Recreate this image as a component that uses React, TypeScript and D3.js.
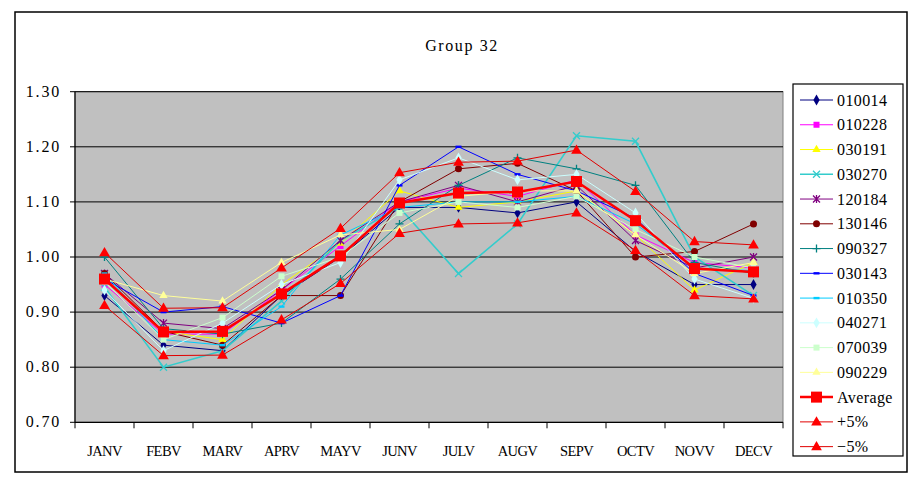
import React from "react";
import * as d3 from "d3";

const months = ["JANV","FEBV","MARV","APRV","MAYV","JUNV","JULV","AUGV","SEPV","OCTV","NOVV","DECV"];
const yTicks = [0.7, 0.8, 0.9, 1.0, 1.1, 1.2, 1.3];
const title = "Group 32";

const s010014 = [0.93,0.84,0.83,0.93,1.00,1.09,1.09,1.08,1.10,1.01,0.95,0.95];
const s010228 = [0.95,0.86,0.86,0.94,1.02,1.10,1.125,1.11,1.14,1.04,0.99,0.98];
const s030191 = [0.96,0.865,0.85,0.95,1.025,1.12,1.09,1.10,1.12,1.04,0.94,0.99];
const s030270 = [0.945,0.80,0.83,0.92,1.03,1.09,0.97,1.06,1.22,1.21,1.00,0.93];
const s120184 = [0.97,0.88,0.87,0.94,1.03,1.10,1.13,1.10,1.13,1.03,0.98,1.00];
const s130146 = [0.97,0.865,0.84,0.93,0.93,1.10,1.16,1.17,1.12,1.00,1.01,1.06];
const s090327 = [1.00,0.87,0.86,0.88,0.96,1.06,1.13,1.18,1.16,1.13,0.99,0.97];
const s030143 = [0.96,0.90,0.91,0.88,0.93,1.13,1.20,1.15,1.12,1.07,0.97,0.93];
const s010350 = [0.97,0.85,0.84,0.91,1.04,1.09,1.10,1.10,1.11,1.06,0.98,0.975];
const s040271 = [0.94,0.83,0.88,0.95,0.99,1.14,1.18,1.14,1.15,1.08,0.96,0.925];
const s070039 = [0.955,0.85,0.89,0.965,1.00,1.08,1.10,1.09,1.11,1.05,1.00,0.98];
const s090229 = [0.96,0.93,0.92,0.99,1.04,1.05,1.11,1.12,1.12,1.04,0.97,0.99];
const sAverage = [0.96,0.864,0.865,0.933,1.002,1.098,1.116,1.118,1.137,1.066,0.979,0.973];
const sPlus5 = [1.008,0.907,0.908,0.980,1.052,1.153,1.172,1.174,1.194,1.119,1.028,1.022];
const sMinus5 = [0.912,0.821,0.822,0.886,0.952,1.043,1.060,1.062,1.080,1.012,0.930,0.924];

type Marker = "diamond" | "square" | "triangle" | "x" | "star" | "circle" | "plus" | "dash" | "bigsquare" | "bigtriangle";
interface Series { name: string; values: number[]; color: string; marker: Marker; width: number; }

const series: Series[] = [
  { name: "010014", values: s010014, color: "#000080", marker: "diamond", width: 1 },
  { name: "010228", values: s010228, color: "#FF00FF", marker: "square", width: 1 },
  { name: "030191", values: s030191, color: "#FFFF00", marker: "triangle", width: 1 },
  { name: "030270", values: s030270, color: "#33CCCC", marker: "x", width: 1.6 },
  { name: "120184", values: s120184, color: "#800080", marker: "star", width: 1 },
  { name: "130146", values: s130146, color: "#800000", marker: "circle", width: 1 },
  { name: "090327", values: s090327, color: "#008080", marker: "plus", width: 1 },
  { name: "030143", values: s030143, color: "#0000FF", marker: "dash", width: 1 },
  { name: "010350", values: s010350, color: "#00CCFF", marker: "dash", width: 1 },
  { name: "040271", values: s040271, color: "#CCFFFF", marker: "diamond", width: 1 },
  { name: "070039", values: s070039, color: "#CCFFCC", marker: "square", width: 1 },
  { name: "090229", values: s090229, color: "#FFFF99", marker: "triangle", width: 1 },
  { name: "Average", values: sAverage, color: "#FF0000", marker: "bigsquare", width: 2.5 },
  { name: "+5%", values: sPlus5, color: "#E00000", marker: "bigtriangle", width: 1 },
  { name: "\u22125%", values: sMinus5, color: "#E00000", marker: "bigtriangle", width: 1 },
];

const W = 916, H = 481;
const plotL = 75, plotR = 783, plotT = 91.7, plotB = 422.3;
const FONT = "Liberation Serif";

function MarkerShape({ type, x, y, color }: { type: Marker; x: number; y: number; color: string }) {
  const t = `translate(${x},${y})`;
  switch (type) {
    case "diamond":
      return <path transform={t} d={d3.symbol(d3.symbolDiamond, 34)()!} fill={color} />;
    case "square":
      return <rect x={x - 3} y={y - 3} width={6} height={6} fill={color} />;
    case "triangle":
      return <path transform={t} d={d3.symbol(d3.symbolTriangle, 30)()!} fill={color} />;
    case "circle":
      return <circle cx={x} cy={y} r={3.5} fill={color} />;
    case "x":
      return <path transform={t} d="M-3.5,-3.5L3.5,3.5M-3.5,3.5L3.5,-3.5" stroke={color} strokeWidth={1.3} fill="none" />;
    case "star":
      return <path transform={t} d="M-3.5,-3.5L3.5,3.5M-3.5,3.5L3.5,-3.5M0,-4L0,4" stroke={color} strokeWidth={1.3} fill="none" />;
    case "plus":
      return <path transform={t} d="M-4,0L4,0M0,-4L0,4" stroke={color} strokeWidth={1.3} fill="none" />;
    case "dash":
      return <rect x={x - 3} y={y - 1.2} width={6} height={2.4} fill={color} />;
    case "bigsquare":
      return <rect x={x - 5.5} y={y - 5.5} width={11} height={11} fill="#FF0000" />;
    case "bigtriangle":
      return <path transform={`translate(${x},${y + 0.5})`} d={d3.symbol(d3.symbolTriangle, 50)()!} fill="#FF0000" />;
  }
}

export default function App() {
  const x = d3.scaleBand<string>().domain(months).range([plotL, plotR]).padding(0);
  const cx = (m: string) => (x(m) as number) + x.bandwidth() / 2;
  const y = d3.scaleLinear().domain([0.7, 1.3]).range([plotB, plotT]);
  const line = d3.line<number>().x((_, i) => cx(months[i])).y((v) => y(v));
  const fmt = d3.format(".2f");

  const legX = 793, legY = 84, legW = 110, legH = 372;
  const legStep = 24.76;
  const legFirst = 100;

  return (
    <svg width={W} height={H} style={{ position: "absolute", left: 0, top: 0, background: "#fff" }} fontFamily={FONT}>
      <rect x={15} y={12} width={892} height={460} fill="#fff" stroke="#000" strokeWidth={1.5} />
      <text x={462} y={51} textAnchor="middle" fontSize={16} letterSpacing={1.6} fill="#000">{title}</text>

      <rect x={plotL} y={plotT} width={plotR - plotL} height={plotB - plotT} fill="#C0C0C0" stroke="#808080" strokeWidth={1} />
      {yTicks.filter((v) => v > 0.7).map((v) => (
        <line key={v} x1={plotL} x2={plotR} y1={y(v)} y2={y(v)} stroke="#000" strokeWidth={1} />
      ))}
      <line x1={plotL} x2={plotL} y1={plotT} y2={plotB} stroke="#000" strokeWidth={1.2} />
      <line x1={plotL} x2={plotR} y1={plotB} y2={plotB} stroke="#000" strokeWidth={1.2} />
      {yTicks.map((v) => (
        <g key={v}>
          <line x1={plotL - 5} x2={plotL} y1={y(v)} y2={y(v)} stroke="#000" strokeWidth={1} />
          <text x={61} y={y(v) + 5} textAnchor="end" fontSize={16} letterSpacing={1.8} fill="#000">{fmt(v)}</text>
        </g>
      ))}
      {d3.range(months.length + 1).map((i) => {
        const xx = plotL + i * x.bandwidth();
        return <line key={i} x1={xx} x2={xx} y1={plotB} y2={plotB + 6} stroke="#000" strokeWidth={1} />;
      })}
      {months.map((m) => (
        <text key={m} x={cx(m)} y={456} textAnchor="middle" fontSize={14.5} letterSpacing={-0.6} fill="#000">{m}</text>
      ))}

      {series.map((s) => (
        <g key={s.name}>
          <path d={line(s.values)!} fill="none" stroke={s.color} strokeWidth={s.width} />
          {s.values.map((v, i) => (
            <MarkerShape key={i} type={s.marker} x={cx(months[i])} y={y(v)} color={s.color} />
          ))}
        </g>
      ))}

      <rect x={legX} y={legY} width={legW} height={legH} fill="#fff" stroke="#000" strokeWidth={1.2} />
      {series.map((s, i) => {
        const ly = legFirst + i * legStep;
        return (
          <g key={s.name}>
            <line x1={800} x2={833} y1={ly} y2={ly} stroke={s.color} strokeWidth={s.width} />
            <MarkerShape type={s.marker} x={816.5} y={ly} color={s.color} />
            <text x={837} y={ly + 5.5} fontSize={16} letterSpacing={0.4} fill="#000">{s.name}</text>
          </g>
        );
      })}
    </svg>
  );
}
